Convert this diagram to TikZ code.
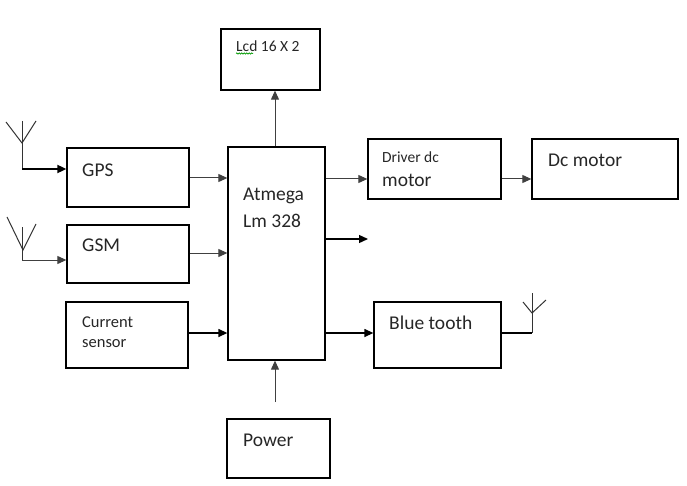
\documentclass[tikz,border=0pt]{standalone}
\usepackage{fontspec}
\setmainfont{Carlito}
\usetikzlibrary{arrows.meta,decorations.pathmorphing}
\tikzset{
  blk/.style={draw=black, line width=1.3pt, rectangle, inner sep=0pt},
  lbl/.style={anchor=west, inner sep=0pt, text=black!85},
  big/.style={font=\fontsize{19.5}{22}\selectfont},
  conn/.style={draw=black!75, line width=1pt, -{Triangle[length=9pt,width=8pt]}},
  thickconn/.style={draw=black, line width=1.8pt, -{Triangle[length=9pt,width=8pt]}},
  wire/.style={draw=black, line width=1.3pt},
  ant/.style={draw=black!80, line width=1pt},
}
\newcommand{\boxat}[5]{\node[blk, minimum width={#4-#2}, minimum height={#5-#3}] (#1) at ({(#2+#4)/2},{(#3+#5)/2}) {};}
\begin{document}
\begin{tikzpicture}[x=1pt,y=-1pt]
\useasboundingbox (0,0) rectangle (687,486);
% boxes
\boxat{lcd}{221}{29}{320}{90}
\boxat{gps}{67}{148}{189}{207}
\boxat{gsm}{67}{225}{189}{283}
\boxat{cur}{66}{302}{188}{368}
\boxat{atm}{228}{147}{325}{360}
\boxat{drv}{368}{139}{501}{199}
\boxat{dcm}{532}{139}{678}{199}
\boxat{bt}{374}{302}{501}{368}
\boxat{pwr}{227}{419}{330}{478}
% labels
\node[lbl, font=\fontsize{15.5}{17}\selectfont] (tlcd) at (236,46) {Lcd 16 X 2};
\draw[draw=green!60!black, line width=0.7pt, decorate, decoration={snake, amplitude=0.6pt, segment length=2.5pt}] (236,53.5) -- (253,53.5);
\node[lbl, big] (tgps) at (82,170) {GPS};
\node[lbl, big] (tgsm) at (82,245) {GSM};
\node[lbl, font=\fontsize{16.5}{18}\selectfont] (tcur1) at (82,322) {Current};
\node[lbl, font=\fontsize{16.5}{18}\selectfont] (tcur2) at (82,344) {sensor};
\node[lbl, big] (tatm1) at (243,196) {Atmega};
\node[lbl, big] (tatm2) at (243,221) {Lm 328};
\node[lbl, font=\fontsize{15.5}{17}\selectfont] (tdrv1) at (382,157) {Driver dc};
\node[lbl, big] (tdrv2) at (382,180) {motor};
\node[lbl, big] (tdcm) at (548,160) {Dc motor};
\node[lbl, big] (tbt) at (389,323) {Blue tooth};
\node[lbl, big] (tpwr) at (243,440) {Power};
% antenna coordinates
\coordinate (a1) at (22,169);
\coordinate (a1v) at (22,143);
\coordinate (a1t) at (22,121);
\coordinate (a1l) at (6,122);
\coordinate (a1r) at (36,121);
\coordinate (a2) at (22,260);
\coordinate (a2v) at (23,250);
\coordinate (a2t) at (22,227);
\coordinate (a2l) at (7,217);
\coordinate (a2r) at (36,224);
\coordinate (a3) at (532,333);
\coordinate (a3v) at (532,313);
\coordinate (a3t) at (532,293);
\coordinate (a3l) at (523,302);
\coordinate (a3r) at (546,300);
\coordinate (free) at (368,239);
\coordinate (pwrtop) at (275,402);
% antennas
\draw[ant] (a1l) -- (a1v) -- (a1r);
\draw[ant] (a1t) -- (a1);
\draw[ant] (a2l) -- (a2v) -- (a2r);
\draw[ant] (a2t) -- (a2);
\draw[ant] (a3l) -- (a3v) -- (a3r);
\draw[ant] (a3t) -- (a3);
% connectors
\draw[thickconn] (a1) -- (a1 -| gps.west);
\draw[conn] (a2) -- (a2 -| gsm.west);
\draw[conn] (gps.east |- 0,178) -- (atm.west |- 0,178);
\draw[conn] (gsm.east |- 0,253) -- (atm.west |- 0,253);
\draw[thickconn, line width=1.3pt] (cur.east |- 0,333) -- (atm.west |- 0,333);
\draw[conn] (atm.north -| 275,0) -- (lcd.south -| 275,0);
\draw[conn] (atm.east |- 0,179) -- (drv.west |- 0,179);
\draw[conn] (drv.east |- 0,179) -- (dcm.west |- 0,179);
\draw[thickconn, line width=1.3pt] (atm.east |- free) -- (free);
\draw[thickconn, line width=1.3pt] (atm.east |- 0,333) -- (bt.west |- 0,333);
\draw[wire] (bt.east |- a3) -- (a3);
\draw[conn] (pwrtop) -- (atm.south -| pwrtop);
\end{tikzpicture}
\end{document}
